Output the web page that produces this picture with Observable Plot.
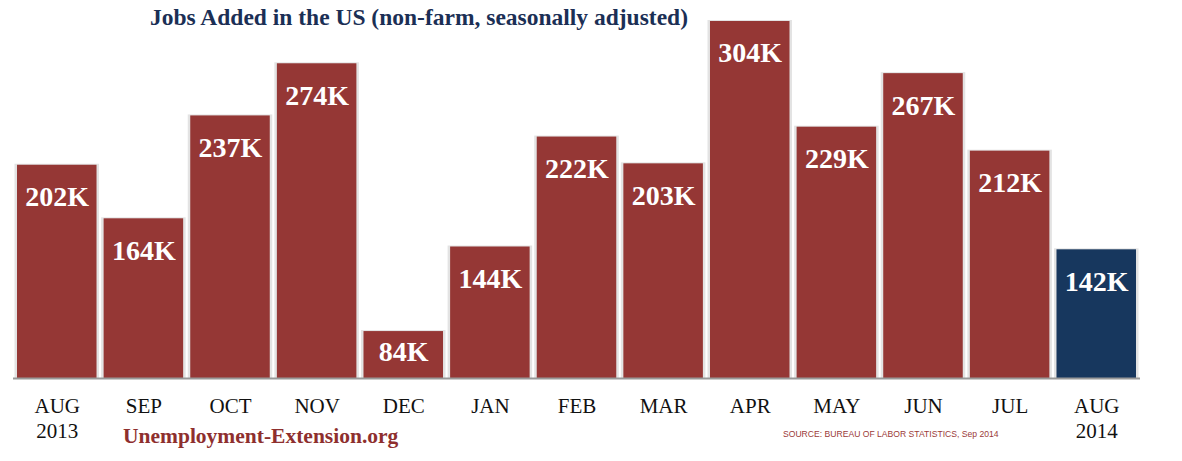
<!DOCTYPE html>
<html>
<head>
<meta charset="utf-8">
<script src="https://cdn.jsdelivr.net/npm/d3@7"></script>
<script src="https://cdn.jsdelivr.net/npm/@observablehq/plot@0.6"></script>
<style>
  html, body { margin: 0; padding: 0; background: #fff; }
  #wrap { position: relative; width: 1182px; height: 461px; overflow: hidden; }
  #title { position: absolute; left: 150px; top: 4px;
    font: bold 23.5px "Liberation Serif", serif; color: #1b2f55; white-space: nowrap; }
  #site { position: absolute; left: 123px; top: 424px;
    font: bold 21.5px "Liberation Serif", serif; color: #8e2f2e; white-space: nowrap; }
  #source { position: absolute; left: 783px; top: 429px;
    font: 8.6px "Liberation Sans", sans-serif; color: #9b3a38; white-space: nowrap; }
</style>
</head>
<body>
<div id="wrap">
  <div id="chart"></div>
  <div id="title">Jobs Added in the US (non-farm, seasonally adjusted)</div>
  <div id="site">Unemployment-Extension.org</div>
  <div id="source">SOURCE: BUREAU OF LABOR STATISTICS, Sep 2014</div>
</div>
<script>
const periods = ["2013-08","2013-09","2013-10","2013-11","2013-12","2014-01","2014-02","2014-03","2014-04","2014-05","2014-06","2014-07","2014-08"];
const monthLabels = ["AUG","SEP","OCT","NOV","DEC","JAN","FEB","MAR","APR","MAY","JUN","JUL","AUG"];
const yearLabels = ["2013","","","","","","","","","","","","2014"];
const jobsK = [202,164,237,274,84,144,222,203,304,229,267,212,142];

const RED = "#953735";
const NAVY = "#17375e";
const BASE = 50.7;

const data = periods.map((p, i) => ({
  period: p, month: monthLabels[i], year: yearLabels[i], jobs: jobsK[i], latest: i === periods.length - 1
}));

const chart = Plot.plot({
  width: 1182,
  height: 461,
  marginLeft: 17,
  marginRight: 46,
  marginTop: 0,
  marginBottom: 83,
  x: { domain: periods, paddingInner: 0.082, paddingOuter: 0, round: false, axis: null },
  y: { domain: [BASE, 318.9], axis: null },
  color: { domain: [false, true], range: [RED, NAVY] },
  style: { background: "white", overflow: "visible" },
  marks: [
    Plot.barY(data, { x: "period", y1: BASE, y2: "jobs", fill: "#e3e3e3", insetLeft: -2.5, insetRight: -2.5, insetTop: -1 }),
    Plot.barY(data, { x: "period", y1: BASE, y2: "jobs", fill: "latest" }),
    Plot.ruleY([BASE], { stroke: "#999", strokeWidth: 2, insetLeft: -4, insetRight: -4 }),
    Plot.text(data, { x: "period", y: d => Math.max(d.jobs, 92), text: d => d.jobs + "K", dy: 32,
      fill: "white", fontSize: 28, fontWeight: "bold", fontFamily: "Liberation Serif", lineAnchor: "middle" }),
    Plot.text(data, { x: "period", y: BASE, text: "month", dy: 28, fill: "#111",
      fontSize: 21, fontFamily: "Liberation Serif", lineAnchor: "middle" }),
    Plot.text(data, { x: "period", y: BASE, text: "year", dy: 53, fill: "#111",
      fontSize: 21, fontFamily: "Liberation Serif", lineAnchor: "middle" })
  ]
});
document.getElementById("chart").appendChild(chart);
</script>
</body>
</html>
